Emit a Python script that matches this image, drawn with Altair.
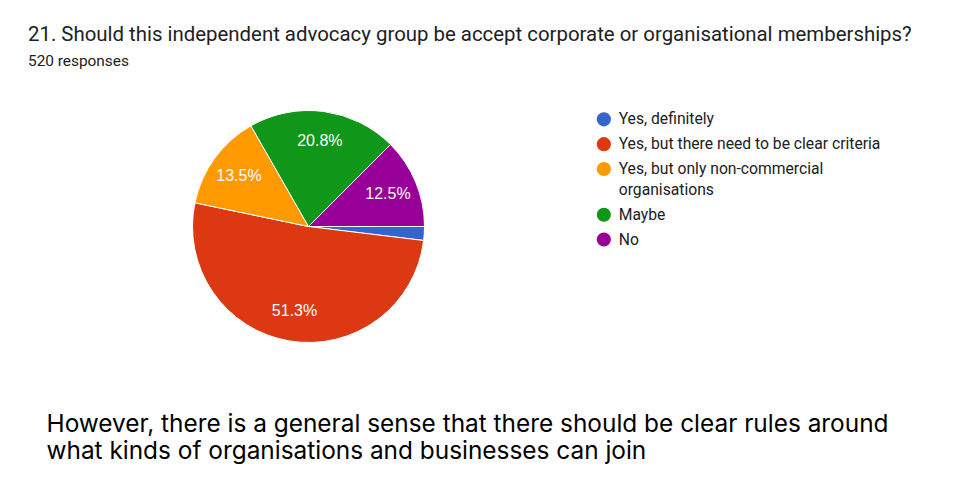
import math
import altair as alt
import pandas as pd

categories = [
    "Yes, definitely",
    "Yes, but there need to be clear criteria",
    "Yes, but only non-commercial organisations",
    "Maybe",
    "No",
]
counts = [10, 267, 70, 108, 65]
pct_labels = ["", "51.3%", "13.5%", "20.8%", "12.5%"]
colors = ["#3366CC", "#DC3912", "#FF9900", "#109618", "#990099"]

title_text = "21. Should this independent advocacy group be accept corporate or organisational memberships?"
subtitle_text = "520 responses"
note_lines = [
    "However, there is a general sense that there should be clear rules around",
    "what kinds of organisations and businesses can join",
]

df = pd.DataFrame({
    "category": categories,
    "count": counts,
    "label": pct_labels,
    "order": list(range(len(categories))),
})

W, H = 944, 486
CX, CY = 300.5, 218.5
R = 116

theta_scale = alt.Scale(range=[math.pi / 2, math.pi / 2 + 2 * math.pi])
color_scale = alt.Scale(domain=categories, range=colors)

base = alt.Chart(df).encode(
    theta=alt.Theta("count:Q", stack=True, scale=theta_scale),
    order=alt.Order("order:Q"),
)

arcs = base.mark_arc(outerRadius=R, stroke="white", strokeWidth=1).encode(
    x=alt.value(CX),
    y=alt.value(CY),
    color=alt.Color(
        "category:N",
        scale=color_scale,
        sort=categories,
        legend=alt.Legend(
            title=None,
            orient="none",
            legendX=588,
            legendY=103.5,
            symbolType="circle",
            symbolSize=200,
            symbolStrokeWidth=0,
            labelFont="Roboto",
            labelFontSize=15.7,
            labelColor="#212121",
            labelLimit=400,
            labelOffset=7,
            rowPadding=7.8,
            labelExpr="datum.label == 'Yes, but only non-commercial organisations' ? ['Yes, but only non-commercial', 'organisations'] : datum.label",
        ),
    ),
)

labels = base.mark_text(
    radius=86, font="Arial", fontSize=16, color="white"
).encode(
    x=alt.value(CX),
    y=alt.value(CY),
    text="label:N",
)

title = alt.Chart(pd.DataFrame({"t": [title_text]})).mark_text(
    align="left", baseline="alphabetic", font="Roboto", fontSize=20.4, color="#202124"
).encode(text="t:N", x=alt.value(20), y=alt.value(32.7))

subtitle = alt.Chart(pd.DataFrame({"t": [subtitle_text]})).mark_text(
    align="left", baseline="alphabetic", font="Roboto", fontSize=15.4, color="#202124"
).encode(text="t:N", x=alt.value(20), y=alt.value(57.5))

note = alt.Chart(pd.DataFrame({"t": ["\n".join(note_lines)]})).mark_text(
    align="left", baseline="alphabetic", font="Inter", fontSize=24.4,
    color="#000000", lineBreak="\n", lineHeight=27.6,
).encode(text="t:N", x=alt.value(38.5), y=alt.value(423.5))

chart = alt.layer(arcs, labels, title, subtitle, note).properties(
    width=W, height=H, autosize=alt.AutoSizeParams(type="none"), padding=0,
).configure(
    background="white",
    view=alt.ViewConfig(stroke="transparent", strokeWidth=0),
    style={"guide-label": {"lineHeight": 21}},
)

chart.save("out.html", embed_options={"renderer": "svg", "actions": False})
